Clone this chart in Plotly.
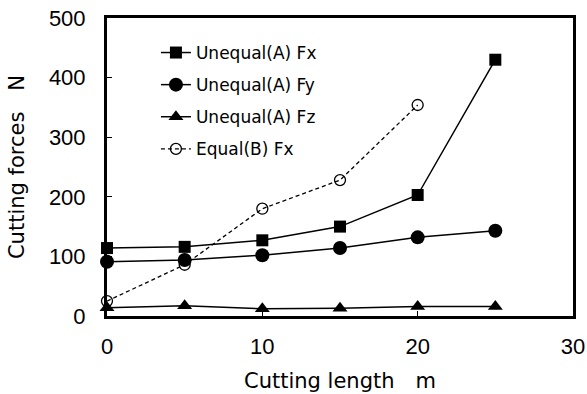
import plotly.graph_objects as go

length = [0, 5, 10, 15, 20, 25]
fx_a = [114, 116, 127, 150, 203, 430]
fy_a = [91, 94, 102, 114, 132, 143]
fz_a = [14, 17, 12, 13, 16, 16]
length_b = [0, 5, 10, 15, 20]
fx_b = [25, 86, 180, 228, 354]

TXTFONT = "DejaVu Sans, Liberation Sans, Arial"
NUMFONT = "Liberation Sans, Arial"

fig = go.Figure()
fig.add_trace(go.Scatter(x=length, y=fx_a, name="Unequal(A) Fx", mode="lines+markers",
                         line=dict(color="black", width=1.5),
                         marker=dict(symbol="square", size=12, color="black"),
                         legendgroup="a", cliponaxis=False))
fig.add_trace(go.Scatter(x=length, y=fy_a, name="Unequal(A) Fy", mode="lines+markers",
                         line=dict(color="black", width=1.5),
                         marker=dict(symbol="circle", size=14, color="black"),
                         legendgroup="b", cliponaxis=False))
fig.add_trace(go.Scatter(x=length, y=fz_a, name="Unequal(A) Fz", mode="lines+markers",
                         line=dict(color="black", width=1.5),
                         marker=dict(symbol="triangle-up", size=13, color="black"),
                         legendgroup="c", cliponaxis=False))
fig.add_trace(go.Scatter(x=length_b, y=fx_b, name="Equal(B) Fx", mode="lines+markers",
                         line=dict(color="black", width=1.3, dash="4px,3px"),
                         marker=dict(symbol="circle-open", size=11, color="black",
                                     line=dict(width=1.3, color="black")),
                         legendgroup="d", cliponaxis=False))

fig.update_layout(
    width=587, height=394,
    margin=dict(l=107, r=14, t=18, b=78, autoexpand=False),
    paper_bgcolor="white", plot_bgcolor="white",
    font=dict(family=TXTFONT, color="black"),
    showlegend=True,
    legend=dict(x=0.105, y=0.943, xanchor="left", yanchor="top",
                bgcolor="rgba(0,0,0,0)", font=dict(size=17, family=TXTFONT),
                tracegroupgap=7, traceorder="grouped"),
    xaxis=dict(range=[0, 30], dtick=10, showline=True, mirror=True, linewidth=3,
               linecolor="black", ticks="inside", ticklen=5, tickcolor="black",
               showgrid=False, zeroline=False, automargin=False,
               ticklabelstandoff=9,
               tickfont=dict(size=22, family=NUMFONT),
               title=dict(text="Cutting length\u3000m", font=dict(size=21, family=TXTFONT), standoff=15)),
    yaxis=dict(range=[0, 500], dtick=100, showline=True, mirror=True, linewidth=3,
               linecolor="black", ticks="inside", ticklen=5, tickcolor="black",
               showgrid=False, zeroline=False, automargin=False,
               ticklabelstandoff=14,
               tickfont=dict(size=22, family=NUMFONT),
               title=dict(text="Cutting forces\u3000N", font=dict(size=21, family=TXTFONT), standoff=19)),
)

fig.write_html("out.html", config={"displayModeBar": False},
               post_script="document.body.style.margin='0';")
